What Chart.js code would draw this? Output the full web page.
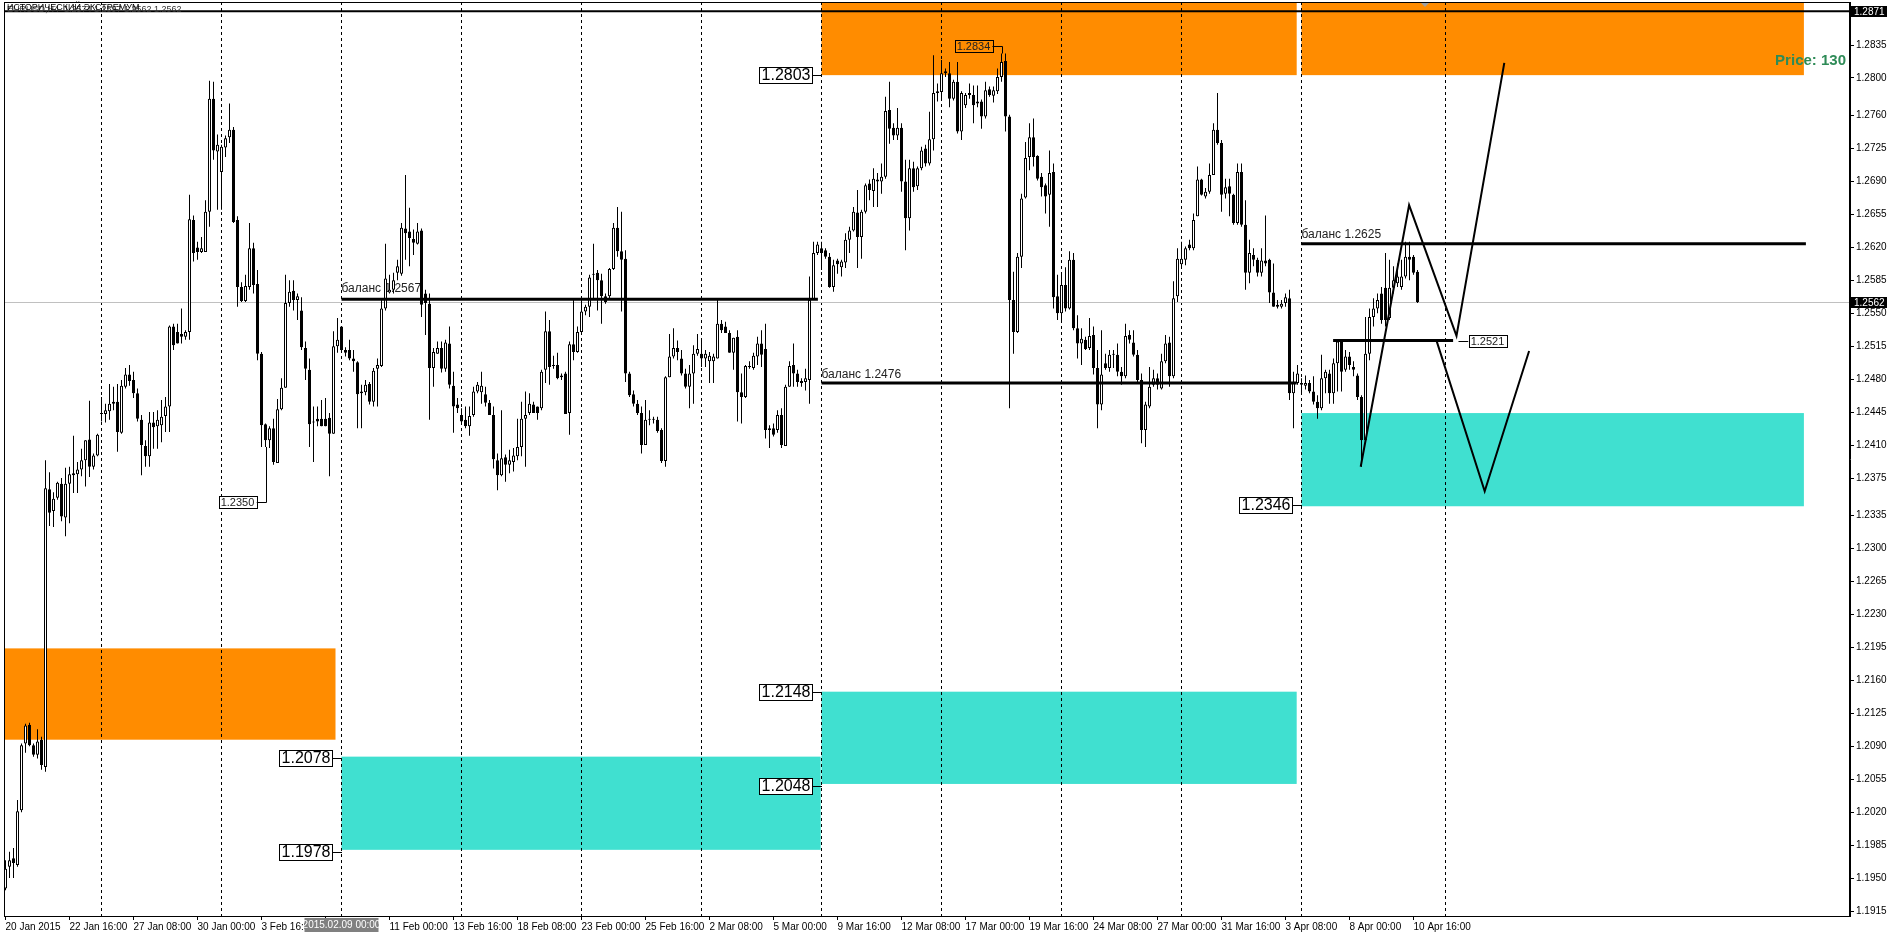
<!DOCTYPE html>
<html>
<head>
<meta charset="utf-8">
<script src="https://cdn.jsdelivr.net/npm/chart.js@4.4.0/dist/chart.umd.min.js"></script>
<style>
  html, body { margin: 0; padding: 0; background: #fff; overflow: hidden; }
  canvas { display: block; }
</style>
</head>
<body>
<canvas id="grafico" width="1892" height="935"></canvas>
<script>
// EURUSD H4, candles [open, high, low, close], one per 4 hours from 20 Jan 2015
const candles = [
  [1.1939,1.1969,1.1937,1.1960],[1.1962,1.1978,1.1950,1.1969],[1.1971,1.1982,1.1950,1.1966],[1.1964,1.2033,1.1962,1.2021],
  [1.2022,1.2093,1.2020,1.2091],[1.2093,1.2114,1.2083,1.2112],[1.2113,1.2115,1.2090,1.2091],[1.2091,1.2093,1.2079,1.2081],
  [1.2081,1.2108,1.2077,1.2095],[1.2097,1.2100,1.2065,1.2070],[1.2068,1.2394,1.2063,1.2364],[1.2363,1.2381,1.2324,1.2338],
  [1.2340,1.2360,1.2323,1.2353],[1.2354,1.2371,1.2352,1.2370],[1.2369,1.2375,1.2329,1.2334],[1.2333,1.2386,1.2313,1.2369],
  [1.2369,1.2387,1.2327,1.2379],[1.2380,1.2420,1.2359,1.2378],[1.2379,1.2392,1.2359,1.2384],[1.2384,1.2406,1.2377,1.2394],
  [1.2394,1.2415,1.2366,1.2415],[1.2416,1.2457,1.2376,1.2387],[1.2387,1.2401,1.2384,1.2399],[1.2399,1.2422,1.2398,1.2421],
  [1.2444,1.2461,1.2435,1.2443],[1.2443,1.2454,1.2434,1.2447],[1.2446,1.2475,1.2437,1.2454],[1.2454,1.2472,1.2447,1.2456],
  [1.2456,1.2475,1.2403,1.2424],[1.2423,1.2479,1.2422,1.2473],[1.2472,1.2492,1.2470,1.2485],[1.2485,1.2495,1.2473,1.2478],
  [1.2479,1.2488,1.2460,1.2465],[1.2465,1.2470,1.2435,1.2438],[1.2437,1.2442,1.2378,1.2410],[1.2409,1.2415,1.2387,1.2398],
  [1.2398,1.2445,1.2387,1.2434],[1.2434,1.2445,1.2406,1.2429],[1.2430,1.2447,1.2406,1.2437],[1.2431,1.2458,1.2413,1.2440],
  [1.2441,1.2461,1.2424,1.2451],[1.2451,1.2537,1.2424,1.2536],[1.2536,1.2539,1.2511,1.2516],[1.2530,1.2539,1.2518,1.2518],
  [1.2528,1.2555,1.2518,1.2525],[1.2525,1.2532,1.2522,1.2530],[1.2530,1.2676,1.2522,1.2650],[1.2649,1.2654,1.2605,1.2614],
  [1.2620,1.2626,1.2607,1.2615],[1.2615,1.2631,1.2614,1.2619],[1.2615,1.2670,1.2615,1.2658],[1.2658,1.2797,1.2642,1.2778],
  [1.2778,1.2796,1.2713,1.2723],[1.2722,1.2740,1.2660,1.2729],[1.2700,1.2729,1.2660,1.2727],[1.2726,1.2739,1.2716,1.2736],
  [1.2737,1.2773,1.2731,1.2745],[1.2745,1.2748,1.2646,1.2647],[1.2649,1.2653,1.2557,1.2578],[1.2578,1.2583,1.2562,1.2563],
  [1.2563,1.2591,1.2562,1.2579],[1.2578,1.2646,1.2575,1.2619],[1.2619,1.2625,1.2571,1.2580],[1.2581,1.2596,1.2500,1.2507],
  [1.2507,1.2509,1.2408,1.2431],[1.2432,1.2433,1.2408,1.2415],[1.2415,1.2430,1.2407,1.2428],[1.2428,1.2438,1.2389,1.2392],
  [1.2391,1.2459,1.2391,1.2448],[1.2448,1.2481,1.2447,1.2471],[1.2471,1.2591,1.2471,1.2561],[1.2561,1.2585,1.2557,1.2573],
  [1.2574,1.2585,1.2553,1.2564],[1.2564,1.2571,1.2543,1.2568],[1.2553,1.2567,1.2511,1.2514],[1.2513,1.2520,1.2479,1.2491],
  [1.2490,1.2502,1.2408,1.2432],[1.2434,1.2451,1.2392,1.2435],[1.2438,1.2451,1.2430,1.2435],[1.2438,1.2458,1.2430,1.2430],
  [1.2438,1.2460,1.2430,1.2430],[1.2439,1.2444,1.2377,1.2422],[1.2422,1.2531,1.2422,1.2515],[1.2515,1.2545,1.2508,1.2522],
  [1.2536,1.2536,1.2508,1.2511],[1.2511,1.2514,1.2504,1.2508],[1.2511,1.2522,1.2500,1.2502],[1.2502,1.2511,1.2488,1.2499],
  [1.2498,1.2499,1.2428,1.2464],[1.2465,1.2474,1.2428,1.2467],[1.2466,1.2479,1.2463,1.2474],[1.2475,1.2477,1.2453,1.2456],
  [1.2456,1.2492,1.2451,1.2489],[1.2491,1.2502,1.2451,1.2495],[1.2494,1.2566,1.2493,1.2555],[1.2555,1.2624,1.2553,1.2587],
  [1.2572,1.2591,1.2571,1.2575],[1.2575,1.2593,1.2571,1.2585],[1.2593,1.2607,1.2585,1.2600],[1.2592,1.2646,1.2590,1.2641],
  [1.2640,1.2697,1.2607,1.2635],[1.2637,1.2662,1.2600,1.2630],[1.2629,1.2639,1.2612,1.2625],[1.2624,1.2646,1.2623,1.2637],
  [1.2638,1.2640,1.2546,1.2559],[1.2571,1.2575,1.2527,1.2561],[1.2560,1.2571,1.2437,1.2492],[1.2492,1.2513,1.2472,1.2509],
  [1.2507,1.2520,1.2507,1.2513],[1.2513,1.2520,1.2487,1.2491],[1.2491,1.2522,1.2488,1.2519],[1.2518,1.2536,1.2470,1.2474],
  [1.2473,1.2488,1.2423,1.2451],[1.2453,1.2460,1.2444,1.2449],[1.2442,1.2449,1.2433,1.2435],[1.2437,1.2451,1.2428,1.2430],
  [1.2430,1.2451,1.2420,1.2441],[1.2442,1.2472,1.2440,1.2467],[1.2467,1.2477,1.2465,1.2474],[1.2466,1.2488,1.2454,1.2473],
  [1.2464,1.2472,1.2451,1.2455],[1.2455,1.2458,1.2442,1.2442],[1.2442,1.2451,1.2385,1.2395],[1.2394,1.2401,1.2362,1.2378],
  [1.2378,1.2447,1.2377,1.2396],[1.2397,1.2400,1.2371,1.2389],[1.2389,1.2405,1.2380,1.2394],[1.2392,1.2407,1.2382,1.2399],
  [1.2398,1.2438,1.2394,1.2408],[1.2408,1.2456,1.2398,1.2438],[1.2438,1.2467,1.2387,1.2442],[1.2444,1.2465,1.2442,1.2454],
  [1.2453,1.2456,1.2444,1.2444],[1.2451,1.2451,1.2437,1.2444],[1.2449,1.2490,1.2447,1.2488],[1.2490,1.2552,1.2476,1.2531],
  [1.2531,1.2543,1.2474,1.2493],[1.2494,1.2505,1.2491,1.2495],[1.2495,1.2508,1.2480,1.2481],[1.2484,1.2486,1.2479,1.2482],
  [1.2486,1.2488,1.2443,1.2443],[1.2444,1.2520,1.2421,1.2517],[1.2517,1.2564,1.2500,1.2509],[1.2509,1.2536,1.2508,1.2530],
  [1.2530,1.2564,1.2528,1.2552],[1.2552,1.2559,1.2548,1.2557],[1.2557,1.2591,1.2546,1.2588],[1.2591,1.2624,1.2566,1.2592],
  [1.2593,1.2596,1.2553,1.2585],[1.2585,1.2592,1.2539,1.2568],[1.2568,1.2571,1.2560,1.2562],[1.2568,1.2598,1.2566,1.2597],
  [1.2597,1.2646,1.2596,1.2641],[1.2641,1.2663,1.2610,1.2616],[1.2616,1.2658,1.2552,1.2607],[1.2608,1.2617,1.2477,1.2486],
  [1.2486,1.2488,1.2461,1.2463],[1.2464,1.2468,1.2451,1.2454],[1.2454,1.2458,1.2442,1.2444],[1.2444,1.2451,1.2401,1.2410],
  [1.2410,1.2458,1.2410,1.2437],[1.2437,1.2447,1.2431,1.2438],[1.2438,1.2440,1.2433,1.2437],[1.2437,1.2440,1.2423,1.2425],
  [1.2426,1.2428,1.2391,1.2393],[1.2393,1.2483,1.2387,1.2482],[1.2482,1.2528,1.2482,1.2504],[1.2504,1.2534,1.2502,1.2513],
  [1.2513,1.2521,1.2500,1.2509],[1.2502,1.2511,1.2484,1.2486],[1.2486,1.2491,1.2470,1.2472],[1.2472,1.2495,1.2449,1.2486],
  [1.2486,1.2516,1.2454,1.2507],[1.2507,1.2528,1.2505,1.2512],[1.2507,1.2521,1.2493,1.2502],[1.2502,1.2511,1.2493,1.2507],
  [1.2499,1.2509,1.2476,1.2505],[1.2499,1.2507,1.2476,1.2504],[1.2502,1.2566,1.2502,1.2539],[1.2539,1.2543,1.2529,1.2532],
  [1.2536,1.2541,1.2529,1.2529],[1.2529,1.2532,1.2508,1.2508],[1.2508,1.2524,1.2490,1.2524],[1.2525,1.2532,1.2435,1.2466],
  [1.2466,1.2486,1.2433,1.2461],[1.2461,1.2495,1.2460,1.2494],[1.2494,1.2499,1.2491,1.2493],[1.2492,1.2508,1.2490,1.2505],
  [1.2504,1.2525,1.2495,1.2518],[1.2518,1.2532,1.2493,1.2506],[1.2512,1.2539,1.2417,1.2426],[1.2428,1.2431,1.2407,1.2426],
  [1.2428,1.2433,1.2419,1.2421],[1.2426,1.2447,1.2423,1.2442],[1.2442,1.2449,1.2407,1.2410],[1.2409,1.2474,1.2409,1.2472],
  [1.2472,1.2499,1.2472,1.2494],[1.2495,1.2518,1.2472,1.2486],[1.2486,1.2490,1.2472,1.2477],[1.2478,1.2481,1.2472,1.2476],
  [1.2477,1.2491,1.2468,1.2481],[1.2479,1.2589,1.2454,1.2564],[1.2564,1.2626,1.2564,1.2614],[1.2614,1.2626,1.2612,1.2623],
  [1.2619,1.2626,1.2596,1.2614],[1.2617,1.2619,1.2608,1.2610],[1.2610,1.2614,1.2577,1.2578],[1.2578,1.2607,1.2573,1.2601],
  [1.2606,1.2608,1.2592,1.2602],[1.2599,1.2607,1.2589,1.2605],[1.2604,1.2635,1.2598,1.2628],[1.2628,1.2642,1.2614,1.2638],
  [1.2638,1.2663,1.2637,1.2658],[1.2657,1.2681,1.2598,1.2631],[1.2631,1.2660,1.2608,1.2658],[1.2658,1.2688,1.2656,1.2686],
  [1.2688,1.2692,1.2670,1.2681],[1.2680,1.2704,1.2663,1.2693],[1.2692,1.2699,1.2663,1.2690],[1.2690,1.2709,1.2677,1.2695],
  [1.2695,1.2780,1.2693,1.2765],[1.2766,1.2796,1.2730,1.2746],[1.2747,1.2752,1.2734,1.2739],[1.2739,1.2768,1.2734,1.2747],
  [1.2747,1.2752,1.2679,1.2690],[1.2690,1.2713,1.2617,1.2651],[1.2651,1.2713,1.2638,1.2704],[1.2704,1.2711,1.2679,1.2684],
  [1.2685,1.2706,1.2681,1.2704],[1.2704,1.2727,1.2702,1.2723],[1.2725,1.2729,1.2706,1.2709],[1.2709,1.2764,1.2707,1.2735],
  [1.2735,1.2824,1.2723,1.2784],[1.2784,1.2794,1.2775,1.2786],[1.2785,1.2819,1.2778,1.2805],[1.2805,1.2810,1.2801,1.2807],
  [1.2805,1.2817,1.2769,1.2778],[1.2778,1.2798,1.2776,1.2796],[1.2796,1.2817,1.2741,1.2743],[1.2743,1.2786,1.2734,1.2784],
  [1.2771,1.2784,1.2768,1.2782],[1.2784,1.2794,1.2778,1.2782],[1.2782,1.2792,1.2752,1.2771],[1.2775,1.2792,1.2769,1.2773],
  [1.2775,1.2777,1.2746,1.2759],[1.2759,1.2796,1.2757,1.2787],[1.2788,1.2791,1.2780,1.2782],[1.2781,1.2791,1.2774,1.2787],
  [1.2786,1.2810,1.2783,1.2801],[1.2801,1.2826,1.2796,1.2817],[1.2818,1.2826,1.2743,1.2759],[1.2759,1.2761,1.2449,1.2564],
  [1.2564,1.2594,1.2507,1.2530],[1.2530,1.2614,1.2529,1.2610],[1.2610,1.2677,1.2598,1.2672],[1.2673,1.2732,1.2672,1.2715],
  [1.2716,1.2752,1.2702,1.2737],[1.2737,1.2757,1.2706,1.2716],[1.2717,1.2718,1.2691,1.2693],[1.2695,1.2699,1.2674,1.2684],
  [1.2686,1.2688,1.2656,1.2674],[1.2676,1.2723,1.2642,1.2699],[1.2700,1.2709,1.2555,1.2567],[1.2568,1.2591,1.2543,1.2550],
  [1.2550,1.2592,1.2543,1.2580],[1.2580,1.2599,1.2552,1.2555],[1.2555,1.2616,1.2554,1.2607],[1.2607,1.2614,1.2532,1.2534],
  [1.2534,1.2548,1.2502,1.2518],[1.2518,1.2534,1.2495,1.2523],[1.2522,1.2525,1.2511,1.2512],[1.2513,1.2545,1.2511,1.2526],
  [1.2527,1.2536,1.2485,1.2492],[1.2492,1.2511,1.2428,1.2453],[1.2453,1.2532,1.2447,1.2485],[1.2497,1.2507,1.2490,1.2492],
  [1.2492,1.2511,1.2488,1.2506],[1.2506,1.2511,1.2492,1.2506],[1.2506,1.2518,1.2483,1.2488],[1.2488,1.2493,1.2474,1.2483],
  [1.2483,1.2539,1.2481,1.2526],[1.2527,1.2532,1.2518,1.2522],[1.2519,1.2532,1.2504,1.2506],[1.2506,1.2511,1.2477,1.2479],
  [1.2479,1.2486,1.2412,1.2426],[1.2426,1.2456,1.2408,1.2453],[1.2451,1.2493,1.2449,1.2472],[1.2474,1.2490,1.2472,1.2481],
  [1.2481,1.2486,1.2469,1.2474],[1.2470,1.2507,1.2469,1.2499],[1.2499,1.2527,1.2497,1.2518],[1.2519,1.2525,1.2472,1.2483],
  [1.2483,1.2584,1.2481,1.2566],[1.2568,1.2619,1.2562,1.2608],[1.2602,1.2626,1.2597,1.2608],[1.2607,1.2621,1.2601,1.2619],
  [1.2623,1.2628,1.2617,1.2619],[1.2619,1.2656,1.2617,1.2649],[1.2653,1.2706,1.2653,1.2692],[1.2692,1.2693,1.2675,1.2676],
  [1.2674,1.2683,1.2672,1.2679],[1.2679,1.2709,1.2677,1.2697],[1.2697,1.2752,1.2697,1.2745],[1.2745,1.2784,1.2729,1.2731],
  [1.2731,1.2734,1.2658,1.2676],[1.2677,1.2693,1.2672,1.2684],[1.2685,1.2693,1.2653,1.2677],[1.2676,1.2677,1.2644,1.2646],
  [1.2646,1.2709,1.2644,1.2700],[1.2700,1.2709,1.2642,1.2644],[1.2644,1.2670,1.2575,1.2593],[1.2593,1.2628,1.2582,1.2614],
  [1.2612,1.2619,1.2600,1.2607],[1.2607,1.2609,1.2589,1.2593],[1.2593,1.2619,1.2589,1.2606],[1.2606,1.2654,1.2600,1.2603],
  [1.2607,1.2608,1.2561,1.2572],[1.2572,1.2603,1.2557,1.2557],[1.2559,1.2564,1.2555,1.2557],[1.2557,1.2564,1.2555,1.2560],
  [1.2561,1.2571,1.2557,1.2567],[1.2566,1.2575,1.2458,1.2465],[1.2465,1.2488,1.2428,1.2476],[1.2476,1.2495,1.2474,1.2486],
  [1.2474,1.2481,1.2465,1.2476],[1.2473,1.2484,1.2469,1.2476],[1.2476,1.2479,1.2465,1.2467],[1.2467,1.2483,1.2453,1.2456],
  [1.2456,1.2463,1.2438,1.2449],[1.2449,1.2506,1.2447,1.2481],[1.2481,1.2490,1.2465,1.2488],[1.2486,1.2490,1.2454,1.2465],
  [1.2465,1.2502,1.2454,1.2497],[1.2497,1.2522,1.2467,1.2520],[1.2520,1.2522,1.2467,1.2488],[1.2490,1.2511,1.2488,1.2504],
  [1.2504,1.2509,1.2490,1.2495],[1.2493,1.2499,1.2483,1.2490],[1.2484,1.2486,1.2458,1.2461],[1.2461,1.2463,1.2387,1.2415],
  [1.2415,1.2546,1.2415,1.2507],[1.2507,1.2555,1.2500,1.2546],[1.2546,1.2566,1.2536,1.2555],[1.2555,1.2571,1.2550,1.2564],
  [1.2571,1.2578,1.2539,1.2543],[1.2577,1.2614,1.2536,1.2543],[1.2545,1.2607,1.2543,1.2577],[1.2577,1.2600,1.2571,1.2585],
  [1.2582,1.2603,1.2578,1.2589],[1.2578,1.2607,1.2575,1.2589],[1.2589,1.2626,1.2587,1.2610],[1.2610,1.2626,1.2585,1.2607],
  [1.2610,1.2612,1.2591,1.2593],[1.2594,1.2596,1.2561,1.2562]
];

// time axis: one label every 16 candles
const timeLabels = ['20 Jan 2015', '22 Jan 16:00', '27 Jan 08:00', '30 Jan 00:00', '3 Feb 16:00', '6 Feb 08:00',
  '11 Feb 00:00', '13 Feb 16:00', '18 Feb 08:00', '23 Feb 00:00', '25 Feb 16:00', '2 Mar 08:00', '5 Mar 00:00',
  '9 Mar 16:00', '12 Mar 08:00', '17 Mar 00:00', '19 Mar 16:00', '24 Mar 08:00', '27 Mar 00:00', '31 Mar 16:00',
  '3 Apr 08:00', '8 Apr 00:00', '10 Apr 16:00'];
const labelStep = 16;
const weekStarts = [24, 54, 84, 114, 144, 174, 204, 234, 264, 294, 324, 360];
const yTicks = [1.2835, 1.2800, 1.2760, 1.2725, 1.2690, 1.2655, 1.2620, 1.2585, 1.2550, 1.2515, 1.2480, 1.2445,
  1.2410, 1.2375, 1.2335, 1.2300, 1.2265, 1.2230, 1.2195, 1.2160, 1.2125, 1.2090, 1.2055, 1.2020, 1.1985, 1.1950, 1.1915];
const bidPrice = 1.2562;
const histHigh = 1.2871;

// supply / demand zones (candle index, price)
const zoneStart = [-0.4, 84, 204, 204, 324, 324];
const zoneEnd   = [82.5, 203.8, 322.8, 322.8, 449.6, 449.6];
const zoneLow   = [1.2097, 1.1980, 1.2050, 1.2803, 1.2803, 1.2345];
const zoneHigh  = [1.2194, 1.2079, 1.2148, 1.2900, 1.2900, 1.2444];
const zoneType  = ['sell', 'buy', 'buy', 'sell', 'sell', 'buy'];

// horizontal levels
const levelFrom  = [84, 204, 324, 331.9];
const levelTo    = [203.1, 322.8, 450.1, 361.9];
const levelPrice = [1.2565, 1.2476, 1.2624, 1.2521];
const balanceText  = ['баланс 1.2567', 'баланс 1.2476', 'баланс 1.2625'];
const balanceTextY = [1.2567, 1.2476, 1.2625];

// forecast zigzags
const pathUpX = [338.8, 350.9, 362.75, 374.7];
const pathUpY = [1.2387, 1.2665, 1.2526, 1.2816];
const pathDownX = [357.75, 369.8, 380.9];
const pathDownY = [1.2521, 1.2361, 1.2510];

// zone price tags
const tagIdx   = [204, 204, 204, 84, 84, 324];
const tagPrice = [1.2803, 1.2148, 1.2048, 1.2078, 1.1978, 1.2346];

// small price marks: anchor candle, price, point it points to, side
const markIdx   = [249, 65, 363.1];
const markPrice = [1.2834, 1.2350, 1.2521];
const markTo    = [1.2826, 1.2408, null];
const markSide  = [-1, -1, 1];

const FONT = '"Liberation Sans", Arial, sans-serif';

function inZone(i, p) {
  return zoneStart.some((s, k) => i >= s && i <= zoneEnd[k] && p >= zoneLow[k] && p <= zoneHigh[k]);
}

const overlays = {
  id: 'overlays',
  beforeDatasetsDraw(chart) {
    const { ctx, chartArea: a, scales: { x: sx, y: sy } } = chart;
    ctx.save();
    ctx.beginPath();
    ctx.rect(a.left, a.top, a.right - a.left, a.bottom - a.top);
    ctx.clip();

    zoneStart.forEach((s, k) => {
      const x1 = sx.getPixelForValue(s), x2 = sx.getPixelForValue(zoneEnd[k]);
      const y1 = sy.getPixelForValue(zoneHigh[k]), y2 = sy.getPixelForValue(zoneLow[k]);
      ctx.fillStyle = zoneType[k] === 'sell' ? '#ff8c00' : '#40e0d0';
      ctx.fillRect(x1, y1, x2 - x1, y2 - y1);
    });

    // week separators
    ctx.strokeStyle = '#000';
    ctx.lineWidth = 1;
    ctx.setLineDash([3, 3]);
    weekStarts.forEach(w => {
      const x = Math.floor(sx.getPixelForValue(w)) + 0.5;
      ctx.beginPath();
      ctx.moveTo(x, a.top);
      ctx.lineTo(x, a.bottom);
      ctx.stroke();
    });
    ctx.setLineDash([]);

    // bid line
    const yb = Math.round(sy.getPixelForValue(bidPrice)) + 0.5;
    ctx.strokeStyle = '#c0c0c0';
    ctx.beginPath();
    ctx.moveTo(a.left, yb);
    ctx.lineTo(a.right, yb);
    ctx.stroke();

    // balance texts
    ctx.font = '12px ' + FONT;
    ctx.fillStyle = '#222';
    ctx.textAlign = 'left';
    ctx.textBaseline = 'alphabetic';
    balanceText.forEach((t, k) => {
      ctx.fillText(t, sx.getPixelForValue(levelFrom[k]), sy.getPixelForValue(balanceTextY[k]) - 5);
    });
    ctx.restore();
  },
  afterDatasetsDraw(chart) {
    const { ctx, chartArea: a, scales: { x: sx, y: sy } } = chart;
    ctx.save();

    // historical high line
    const yh = sy.getPixelForValue(histHigh);
    ctx.strokeStyle = '#000';
    ctx.lineWidth = 2;
    ctx.beginPath();
    ctx.moveTo(a.left, yh);
    ctx.lineTo(a.right, yh);
    ctx.stroke();

    // zone tags
    ctx.font = '16px ' + FONT;
    ctx.lineWidth = 1;
    ctx.textAlign = 'center';
    ctx.textBaseline = 'middle';
    tagPrice.forEach((p, k) => {
      const ax = Math.round(sx.getPixelForValue(tagIdx[k]));
      const y = Math.round(sy.getPixelForValue(p));
      const txt = p.toFixed(4);
      const w = Math.round(ctx.measureText(txt).width + 5), h = 17;
      const right = ax - 9;
      ctx.beginPath();
      ctx.moveTo(right, y + 0.5);
      ctx.lineTo(ax, y + 0.5);
      ctx.stroke();
      ctx.fillStyle = '#fff';
      ctx.fillRect(right - w, y - 8, w, h);
      ctx.strokeRect(right - w + 0.5, y - 8 + 0.5, w - 1, h - 1);
      ctx.fillStyle = '#000';
      ctx.fillText(txt, right - w / 2, y + 1);
    });

    // small price marks
    ctx.font = '11px ' + FONT;
    markPrice.forEach((p, k) => {
      const ax = Math.round(sx.getPixelForValue(markIdx[k])) + 0.5;
      const y = Math.round(sy.getPixelForValue(p)) + 0.5;
      const txt = p.toFixed(4);
      const w = Math.round(ctx.measureText(txt).width + 4), h = 12;
      const side = markSide[k];
      const edge = ax + side * 10;
      ctx.strokeStyle = '#000';
      ctx.beginPath();
      ctx.moveTo(edge, y);
      ctx.lineTo(ax, y);
      if (markTo[k] !== null) ctx.lineTo(ax, sy.getPixelForValue(markTo[k]));
      ctx.stroke();
      const bx = side < 0 ? edge - w : edge;
      if (!inZone(markIdx[k], p)) {
        ctx.fillStyle = '#fff';
        ctx.fillRect(bx, y - 6, w, h);
      }
      ctx.strokeRect(Math.round(bx) + 0.5, y - 6, w, h);
      ctx.fillStyle = '#222';
      ctx.fillText(txt, bx + w / 2, y + 0.5);
    });

    ctx.font = 'bold 15px ' + FONT;
    ctx.fillStyle = '#2e8b57';
    ctx.textAlign = 'right';
    ctx.fillText('Price: 130', 1846, 61);
    ctx.restore();
  },
  afterDraw(chart) {
    const { ctx, chartArea: a, scales: { x: sx, y: sy } } = chart;
    ctx.save();
    ctx.strokeStyle = '#000';
    ctx.lineWidth = 1;
    ctx.strokeRect(a.left + 0.5, a.top + 0.5, a.right - a.left - 1, a.bottom - a.top);

    // chart shift marker
    ctx.fillStyle = '#a0a0a0';
    ctx.beginPath();
    ctx.moveTo(1421, 3);
    ctx.lineTo(1429, 3);
    ctx.lineTo(1425, 7);
    ctx.fill();

    // price marks on the axis
    ctx.font = '10px ' + FONT;
    ctx.textAlign = 'left';
    ctx.textBaseline = 'middle';
    [histHigh, bidPrice].forEach(p => {
      const y = Math.round(sy.getPixelForValue(p));
      ctx.fillStyle = '#000';
      ctx.fillRect(a.right + 1, y - 5, 36, 11);
      ctx.fillStyle = '#fff';
      ctx.fillText(p.toFixed(4), a.right + 4, y + 1);
    });

    // crosshair date on the time axis
    const xd = sx.getPixelForValue(84);
    ctx.fillStyle = '#808080';
    ctx.fillRect(xd - 37, a.bottom + 2, 74, 14);
    ctx.fillStyle = '#fff';
    ctx.textAlign = 'center';
    ctx.fillText('2015.02.09 00:00', xd, a.bottom + 9.5);

    // title lines
    ctx.font = '9px ' + FONT;
    ctx.fillStyle = '#333';
    ctx.textAlign = 'left';
    ctx.textBaseline = 'top';
    ctx.fillText('EURUSD,H4  1.2574 1.2597 1.2562 1.2562', 7, 5);
    ctx.fillStyle = '#000';
    ctx.fillText('ИСТОРИЧЕСКИЙ ЭКСТРЕМУМ', 7, 3);
    ctx.restore();
  }
};

Chart.defaults.font.family = FONT;
Chart.defaults.font.size = 10;
Chart.defaults.color = '#000';

const wickData = candles.map((c, i) => ({ x: i, y: [c[2], c[1]] }));
const bodyData = candles.map((c, i) => ({ x: i, y: [Math.min(c[0], c[3]), Math.max(c[0], c[3])] }));
const bodyColors = candles.map(c => (c[3] >= c[0] ? '#ffffff' : '#000000'));

const levelSets = levelPrice.map((p, k) => ({
  type: 'line',
  data: [{ x: levelFrom[k], y: p }, { x: levelTo[k], y: p }],
  borderColor: '#000',
  borderWidth: 3,
  pointRadius: 0,
  order: 0
}));

const pathSet = (xs, ys) => ({
  type: 'line',
  data: xs.map((x, k) => ({ x, y: ys[k] })),
  borderColor: '#000',
  borderWidth: 2,
  pointRadius: 0,
  tension: 0,
  order: 0
});

new Chart(document.getElementById('grafico'), {
  type: 'bar',
  data: {
    datasets: [
      ...levelSets,
      pathSet(pathUpX, pathUpY),
      pathSet(pathDownX, pathDownY),
      {
        data: bodyData,
        backgroundColor: bodyColors,
        borderColor: '#000',
        borderWidth: 1,
        borderSkipped: false,
        barThickness: 3,
        minBarLength: 1,
        inflateAmount: 0,
        grouped: false,
        order: 1
      },
      {
        data: wickData,
        backgroundColor: '#000',
        borderWidth: 0,
        barThickness: 1,
        minBarLength: 1,
        inflateAmount: 0,
        grouped: false,
        order: 2
      }
    ]
  },
  options: {
    responsive: false,
    animation: false,
    devicePixelRatio: 1,
    events: [],
    layout: { padding: { left: 4, top: 2, right: 0, bottom: 0 } },
    plugins: { legend: { display: false }, tooltip: { enabled: false } },
    scales: {
      x: {
        type: 'linear',
        min: -0.375,
        max: 461.125,
        offset: false,
        grid: { drawOnChartArea: false, drawTicks: true, tickLength: 4, tickColor: '#000', offset: false },
        border: { display: true, color: '#000' },
        ticks: {
          autoSkip: false,
          maxRotation: 0,
          minRotation: 0,
          align: 'start',
          padding: 1,
          callback: v => timeLabels[Math.round(v / labelStep)]
        },
        afterBuildTicks: s => { s.ticks = timeLabels.map((t, k) => ({ value: k * labelStep })); },
        afterFit: s => { s.height = 19; s.paddingLeft = 0; s.paddingRight = 0; }
      },
      y: {
        type: 'linear',
        position: 'right',
        min: 1.19097,
        max: 1.28807,
        grid: { drawOnChartArea: false, drawTicks: true, tickLength: 4, tickColor: '#000' },
        border: { display: true, color: '#000' },
        ticks: { autoSkip: false, padding: 2, callback: v => v.toFixed(4) },
        afterBuildTicks: s => { s.ticks = yTicks.map(v => ({ value: v })); },
        afterFit: s => { s.width = 42; s.paddingTop = 0; s.paddingBottom = 0; }
      }
    }
  },
  plugins: [overlays]
});
</script>
</body>
</html>
